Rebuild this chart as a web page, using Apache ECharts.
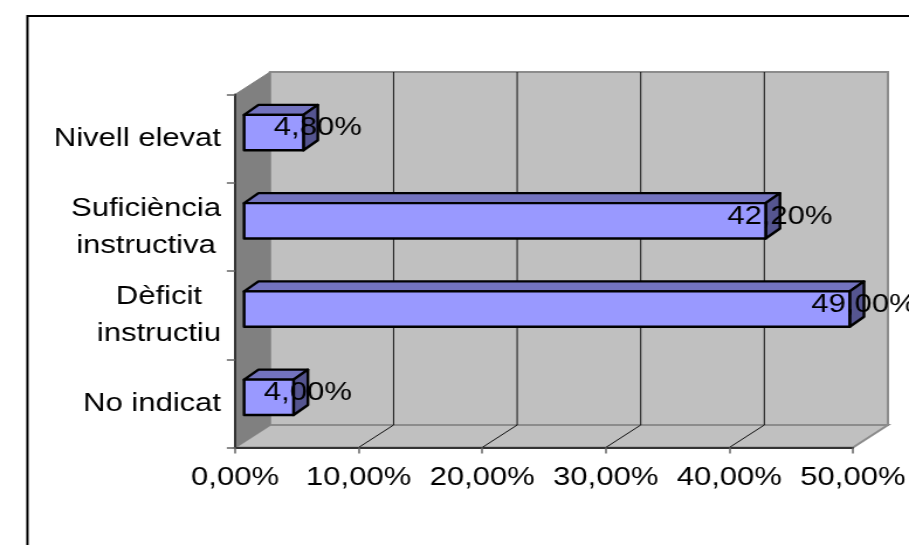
<!DOCTYPE html>
<html><head><meta charset="utf-8">
<style>html,body{margin:0;padding:0;background:#fff;overflow:hidden;width:909px;height:545px}
#c{position:absolute;left:0;top:0;height:545px;transform-origin:0 0}</style>
<script src="https://cdn.jsdelivr.net/npm/echarts@6/dist/echarts.min.js"></script>
</head><body><div id="c"></div>
<script>
const categories = ['No indicat', 'Dèficit\ninstructiu', 'Suficiència\ninstructiva', 'Nivell elevat'];
const values = [4.0, 49.0, 42.2, 4.8];
const xTicks = [10, 20, 30, 40];

const SX = 1.17;               // the reference is stretched horizontally
const FONT = 'Liberation Sans';
const FS = 26.5;
const DX = 35 / SX, DY = 22.5; // depth of the 3D box
const el = document.getElementById('c');
el.style.width = Math.round(909 / SX) + 'px';
el.style.transform = 'scaleX(' + (909 / Math.round(909 / SX)) + ')';
const K = 909 / Math.round(909 / SX);
const fmt = v => v.toFixed(2).replace('.', ',') + '%';

const mctx = document.createElement('canvas').getContext('2d');
mctx.font = FS + 'px "' + FONT + '"';
const rich = {};
categories.forEach((c, i) => {
  rich['c' + i] = { width: Math.max(...c.split('\n').map(s => mctx.measureText(s).width)), align: 'center',
    fontFamily: FONT, fontSize: FS, lineHeight: 37, color: '#000' };
});

const chart = echarts.init(el, null, { renderer: 'canvas' });
const pts = (a) => ({ points: a });
chart.setOption({
  backgroundColor: '#fff',
  animation: false,
  graphic: [{ type: 'rect', left: 24.5 / K, top: 13.5, z: 0, shape: { width: 1000, height: 800 },
    style: { fill: 'none', stroke: '#000', lineWidth: 2 } }],
  grid: { left: 235 / K, top: 94.5, width: 618.7 / K, height: 353, containLabel: false },
  xAxis: { type: 'value', min: 0, max: 50, interval: 10, z: 5,
    axisLine: { show: true, lineStyle: { color: '#333', width: 2 } },
    axisTick: { show: true, length: 6, lineStyle: { color: '#666', width: 1.5 } },
    splitLine: { show: false },
    axisLabel: { margin: 17, fontFamily: FONT, fontSize: FS, color: '#000', formatter: fmt } },
  yAxis: { type: 'category', data: categories, z: 5,
    axisLine: { show: true, onZero: false, lineStyle: { color: '#333', width: 2 } },
    axisTick: { show: true, length: 7, lineStyle: { color: '#666', width: 1.5 } },
    axisLabel: { margin: 12, fontFamily: FONT, fontSize: FS, color: '#000', lineHeight: 37, rich,
      formatter: (v, i) => v.split('\n').map(s => '{c' + i + '|' + s + '}').join('\n') } },
  series: [
    { type: 'custom', name: 'walls', silent: true, clip: false, z: 1, data: [[0, 0]], encode: { x: 0, y: 1 },
      renderItem: (p) => {
        const g = p.coordSys, l = g.x, r = g.x + g.width, t = g.y, b = g.y + g.height;
        return { type: 'group', children: [
          { type: 'polygon', shape: pts([[l + DX, t - DY], [r + DX, t - DY], [r + DX, b - DY], [l + DX, b - DY]]),
            style: { fill: '#c0c0c0', stroke: '#8c8c8c', lineWidth: 2 } },
          { type: 'polygon', shape: pts([[l, b], [l + DX, b - DY], [r + DX, b - DY], [r, b]]),
            style: { fill: '#c0c0c0', stroke: '#8c8c8c', lineWidth: 2 } },
          { type: 'polygon', shape: pts([[l, t], [l + DX, t - DY], [l + DX, b - DY], [l, b]]),
            style: { fill: '#808080', stroke: '#808080', lineWidth: 1 } }
        ] };
      } },
    { type: 'custom', name: 'grid', silent: true, clip: false, z: 2, data: xTicks.map(v => [v, 0]), encode: { x: 0, y: 1 },
      renderItem: (p, api) => {
        const g = p.coordSys, x = api.coord([api.value(0), 0])[0], t = g.y, b = g.y + g.height;
        const ls = { stroke: '#111', lineWidth: 1, fill: 'none' };
        return { type: 'polyline', shape: pts([[x, b], [x + DX, b - DY], [x + DX, t - DY]]), style: ls };
      } },
    { type: 'custom', name: 'bars', silent: true, clip: false, z: 3,
      data: values.map((v, i) => [v, i]), encode: { x: 0, y: 1 },
      renderItem: (p, api) => {
        const end = api.coord([api.value(0), api.value(1)]);
        const zero = api.coord([0, api.value(1)]);
        const h = api.size([0, 1])[1] * 0.4;
        const ox = DX * 0.26, oy = DY * 0.27, dx = DX * 0.41, dy = 10;
        const x0 = zero[0] + ox, x1 = end[0] + ox, yc = end[1] - oy, y0 = yc - h / 2, y1 = yc + h / 2;
        const st = { stroke: '#000', lineWidth: 2.4, lineJoin: 'round' };
        return { type: 'group', children: [
          { type: 'polygon', shape: pts([[x0, y0], [x0 + dx, y0 - dy], [x1 + dx, y0 - dy], [x1, y0]]), style: { fill: '#7373bf', ...st } },
          { type: 'polygon', shape: pts([[x1, y0], [x1 + dx, y0 - dy], [x1 + dx, y1 - dy], [x1, y1]]), style: { fill: '#555590', ...st } },
          { type: 'rect', shape: { x: x0, y: y0, width: x1 - x0, height: h }, style: { fill: '#9999ff', ...st } },
          { type: 'text', z2: 10, style: { text: fmt(api.value(0)), x: x1 + dx, y: yc - 4.5, align: 'center', verticalAlign: 'middle',
              fontFamily: FONT, fontSize: FS, fill: '#000' } }
        ] };
      } }
  ]
});
</script></body></html>
